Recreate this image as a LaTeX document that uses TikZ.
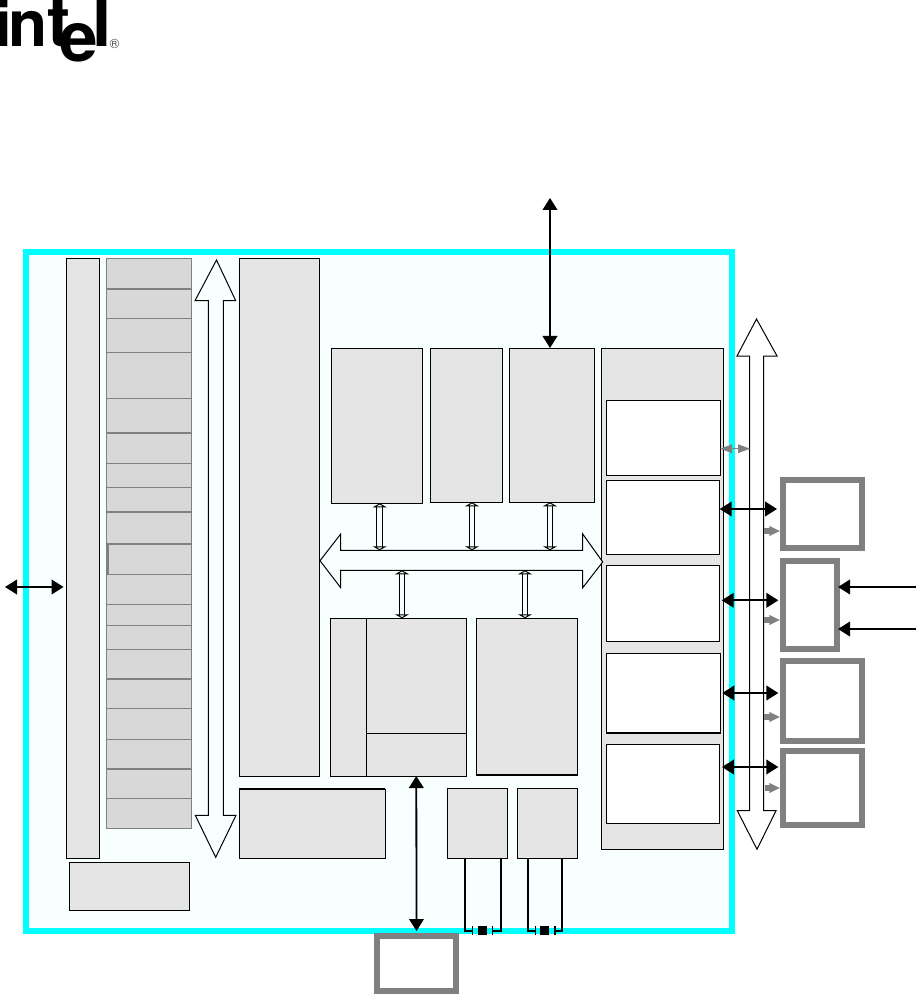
\documentclass[tikz,border=0pt]{standalone}
\usepackage{fontspec}
\usepackage{tikz}
\usetikzlibrary{arrows.meta}
\newfontfamily\logofont{TeX Gyre Heros}
\definecolor{chipfill}{HTML}{F7FFFF}
\definecolor{chipedge}{HTML}{00FFFF}
\definecolor{blockfill}{HTML}{E5E5E5}
\definecolor{cellfill}{HTML}{D8D8D8}
\definecolor{periedge}{HTML}{808080}
\tikzset{
  wh/.style 2 args={minimum width=#1*0.75pt,minimum height=#2*0.75pt},
  plain/.style={inner sep=0pt,outer sep=0pt},
  chip/.style={plain,draw=chipedge,fill=chipfill,line width=4.5pt},
  block/.style={plain,draw=black,fill=blockfill},
  cell/.style={plain,draw=periedge,fill=cellfill,wh={85}{#1}},
  cellline/.style={draw=periedge,line width=1.5pt},
  port/.style={plain,draw=black,fill=white},
  peri/.style={plain,draw=periedge,fill=white,line width=4.5pt},
  bus/.style={draw=black,line join=miter},
  smallbus/.style={double=chipfill,double distance=3.4pt,
    {Triangle[width=10.5pt,length=3pt,fill=chipfill]}-{Triangle[width=10.5pt,length=3pt,fill=chipfill]}},
  link/.style={line width=1.35pt,{Triangle[length=9pt,width=11pt]}-{Triangle[length=9pt,width=11pt]}},
  inlink/.style={line width=1.35pt,-{Triangle[length=9pt,width=11pt]},shorten >=0pt},
  greylink/.style={draw=periedge,fill=periedge,line width=0.75pt,{Triangle[length=9pt,width=6.5pt]}-{Triangle[length=9pt,width=6.5pt]}},
  greystub/.style={draw=periedge,line width=4pt,-{Triangle[length=8pt,width=7pt,fill=periedge]},shorten >=2.2pt},
  wire/.style={line width=1.1pt},
  xtick/.style={plain,fill=black,wh={1.3}{9}},
  xtal/.style={plain,fill=black,wh={9.3}{8.8}},
  logo/.style={plain,anchor=base west,font=\logofont\bfseries\fontsize{48}{48}\selectfont},
  logotall/.style={logo,font=\logofont\bfseries\fontsize{52}{52}\selectfont},
}
\begin{document}
\begin{tikzpicture}[x=0.75pt,y=0.75pt,yscale=-1,xscale=1,line width=0.75pt]
\useasboundingbox (0,0) rectangle (916,994);
% Logo
\node[logo] (logoi) at (-6,47) {i};
\node[logo] (logon) at (8,47) {n};
\node[logotall] (logot) at (47.5,47) {t};
\node[logotall] (logoe) at (59,62) {e};
\node[logotall] (logol) at (92,47) {l};
\node[plain,text=black!70,font=\logofont\fontsize{10}{10}\selectfont] (logor) at (114.5,44.5) {®};
% Chip outline
\node[chip,wh={706}{679}] (outline) at (379,591.5) {};
% Left column
\node[block,wh={33}{599}] (leftbar) at (83,558.5) {};
\node[cell=29.7] (cella) at (149,273.85) {};
\node[cell=29.6] (cellb) at (149,303.5) {};
\node[cell=34] (cellc) at (149,335.3) {};
\node[cell=46] (celld) at (149,375.3) {};
\node[cell=34.4] (celle) at (149,415.5) {};
\node[cell=30.6] (cellf) at (149,448) {};
\node[cell=24] (cellg) at (149,475.3) {};
\node[cell=24.7] (cellh) at (149,499.65) {};
\node[cell=31.7] (celli) at (149,527.85) {};
\node[cell=30.6] (cellj) at (149,559) {};
\node[cell=30] (cellk) at (149,589.3) {};
\node[cell=21] (celll) at (149,614.8) {};
\node[cell=24] (cellm) at (149,637.3) {};
\node[cell=29.7] (celln) at (149,664.15) {};
\node[cell=29.3] (cello) at (149,693.65) {};
\node[cell=31] (cellp) at (149,723.8) {};
\node[cell=29.4] (cellq) at (149,754) {};
\node[cell=29.6] (cellr) at (149,783.5) {};
\node[cell=30] (cellz) at (149,813.3) {};
% Heavier cell edges
\draw[cellline] (cellb.north west) -- (cellb.north east);
\draw[cellline] (cellf.north west) -- (cellf.north east);
\draw[cellline] (celli.north west) -- (celli.north east);
\draw[cellline] (cellj.north west) -- (cellj.north east);
\draw[cellline] (cello.north west) -- (cello.north east);
\draw[cellline] (cellr.north west) -- (cellr.north east);
\draw[cellline] ([xshift=0.75pt]cellj.north west) -- ([xshift=0.75pt]cellj.south west);
\node[block,wh={120}{48}] (flashblock) at (129.3,886.3) {};
% Shape: system bus
\draw[bus,fill=chipfill] (216.5,260) -- (235.7,300.7) -- (223.3,300.7) -- (223.3,815.3) -- (236,815.3) -- (215.7,857.3) -- (195.3,815.3) -- (208.3,815.3) -- (208.3,300.7) -- (195,300.7) -- cycle;
% Centre blocks
\node[block,wh={80}{517}] (mainblock) at (279.3,517.5) {};
\node[block,wh={146}{69.3}] (lowblock) at (312.3,823.65) {};
\draw[line width=1.5pt] (lowblock.north west) -- (lowblock.north east);
\node[block,wh={91.4}{155.3}] (blocka) at (377,425.65) {};
\draw[line width=1.1pt] (blocka.north east) -- (blocka.south east);
\node[block,wh={72.4}{154.3}] (blockb) at (466.5,425.15) {};
\node[block,wh={85.4}{154.3}] (blockc) at (552,425.15) {};
\node[block,wh={36}{157.7}] (blockd) at (348.3,697.15) {};
\node[block,wh={100}{115}] (blockdtop) at (416.3,675.8) {};
\node[block,wh={100}{42.7}] (blockdlow) at (416.3,754.65) {};
\node[block,line width=1.1pt,wh={100.6}{156.7}] (blocke) at (527,696.65) {};
\node[block,wh={60.4}{70}] (blockf) at (477.5,823.7) {};
\node[block,wh={60.4}{70}] (blockg) at (547.5,823.7) {};
% Right panel
\node[block,wh={122.4}{501.3}] (panel) at (662.5,598.65) {};
\node[port,wh={114}{75.3}] (porta) at (663,437.65) {};
\node[port,wh={113.7}{74.3}] (portb) at (662.85,517.15) {};
\node[port,wh={113.7}{76}] (portc) at (662.85,603.3) {};
\node[port,line width=1.1pt,wh={114}{79.7}] (portd) at (663.3,693.15) {};
\node[port,wh={113}{79}] (porte) at (662.8,783.8) {};
% Shape: internal bus
\draw[bus,fill=chipfill] (320,560.7) -- (340.7,534) -- (340.7,550.3) -- (582.7,550.3) -- (582.7,534) -- (602.7,562) -- (582.7,587.7) -- (582.7,570.3) -- (340.7,570.3) -- (340.7,587.7) -- cycle;
% Shape: peripheral bus
\draw[bus,fill=white] (756.5,319) -- (777,356) -- (763.7,356) -- (763.7,810.7) -- (776,810.7) -- (757,849.3) -- (737.3,810.7) -- (749.7,810.7) -- (749.7,356) -- (737,356) -- cycle;
% Outside peripherals
\node[peri,wh={79}{67.7}] (peria) at (822.5,513.85) {};
\node[peri,wh={53.7}{87.7}] (perib) at (809.85,604.85) {};
\node[peri,wh={79}{80}] (peric) at (822.5,701) {};
\node[peri,wh={79}{74}] (perid) at (822.5,788) {};
\node[peri,wh={79}{55}] (perie) at (416.5,963.5) {};
% Bus stubs
\coordinate (stuba) at (379.7,550.3);
\coordinate (stubb) at (472,550.3);
\coordinate (stubc) at (550,550.3);
\coordinate (stubd) at (402,570.3);
\coordinate (stube) at (525,570.3);
\draw[smallbus] (stuba |- blocka.south) -- (stuba);
\draw[smallbus] (stubb |- blockb.south) -- (stubb);
\draw[smallbus] (stubc |- blockc.south) -- (stubc);
\draw[smallbus] (stubd) -- (stubd |- blockdtop.north);
\draw[smallbus] (stube) -- (stube |- blocke.north);
% Black links
\coordinate (leftend) at (5,587);
\coordinate (topend) at (550,198);
\coordinate (rowa) at (0,448.7);
\coordinate (rowb) at (0,509);
\coordinate (rowc) at (0,600.3);
\coordinate (rowd) at (0,693);
\coordinate (rowe) at (0,767);
\coordinate (sidea) at (916,587);
\coordinate (sideb) at (916,629);
\coordinate (busedge) at (750,0);
\draw[link,shorten >=2.2pt] (leftend) -- (leftbar.west |- leftend);
\draw[link] (topend) -- (topend |- blockc.north);
\draw[link] (blockdlow.south) -- ([yshift=-3.75pt]perie.north);
\draw[link,shorten >=4.5pt] (portb.east |- rowb) -- (peria.west |- rowb);
\draw[link,shorten <=1.5pt,shorten >=3.5pt] (portc.east |- rowc) -- (perib.west |- rowc);
\draw[link,shorten <=1.5pt,shorten >=3.5pt] (portd.east |- rowd) -- (peric.west |- rowd);
\draw[link,shorten <=2pt,shorten >=3.5pt] (porte.east |- rowe) -- (perid.west |- rowe);
\draw[inlink] (sidea) -- ([xshift=1pt]perib.east |- sidea);
\draw[inlink] (sideb) -- ([xshift=1pt]perib.east |- sideb);
% Grey links
\draw[greylink] (porta.east |- rowa) -- (busedge |- rowa);
\coordinate (stuby) at (763.7,531);
\draw[greystub] (stuby) -- (peria.west |- stuby);
\coordinate (stubx) at (763.7,620);
\draw[greystub] (stubx) -- (perib.west |- stubx);
\coordinate (stubw) at (763.7,717);
\draw[greystub] (stubw) -- (peric.west |- stubw);
\coordinate (stubv) at (765,788);
\draw[greystub] (stubv) -- (perid.west |- stubv);
% Crystal at block f
\node[xtal] (xtalf) at (482.6,930.3) {};
\node[xtick] (tickfl) at (472.7,930.3) {};
\node[xtick] (tickfr) at (492.7,930.3) {};
\coordinate (fl) at (465,931);
\coordinate (fr) at (501,931);
\draw[wire] (fl |- blockf.south) -- (fl) -- (tickfl.west |- fl);
\draw[wire] (fr |- blockf.south) -- (fr) -- (tickfr.east |- fr);
% Crystal at block g
\node[xtal] (xtalg) at (544.5,930.3) {};
\node[xtick] (tickgl) at (535.3,930.3) {};
\node[xtick] (tickgr) at (555,930.3) {};
\coordinate (gl) at (528,931);
\coordinate (gr) at (562,931);
\draw[wire] (gl |- blockg.south) -- (gl) -- (tickgl.west |- gl);
\draw[wire] (gr |- blockg.south) -- (gr) -- (tickgr.east |- gr);
\end{tikzpicture}
\end{document}
